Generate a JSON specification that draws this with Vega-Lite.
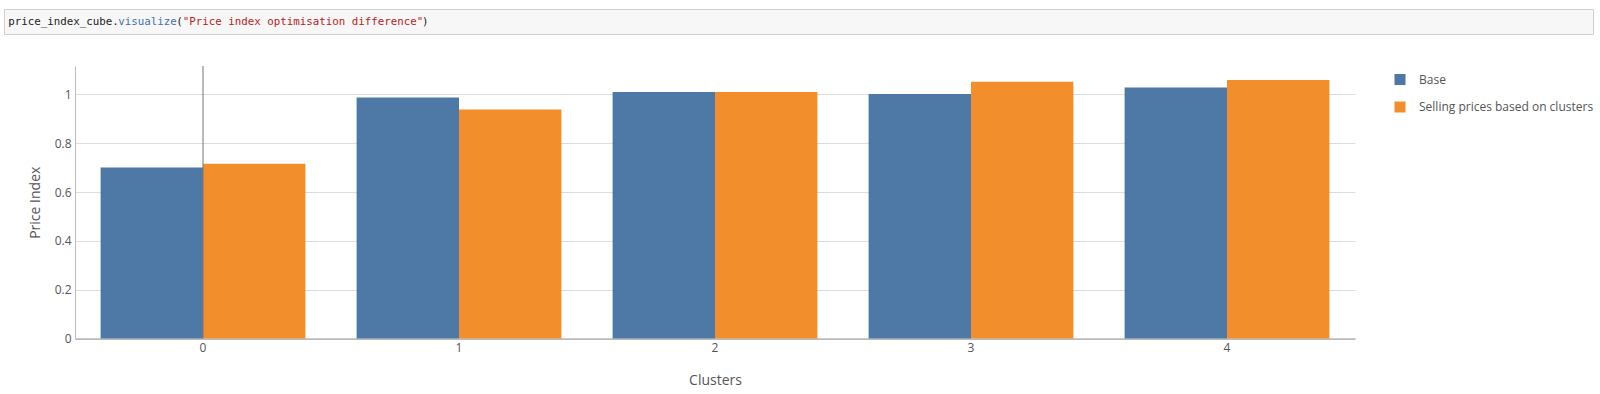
{
  "$schema": "https://vega.github.io/schema/vega-lite/v6.json",
  "padding": {"left": 3, "top": 8, "right": 0, "bottom": 0},
  "background": "white",
  "config": {"view": {"stroke": null}, "font": "Open Sans"},
  "spacing": 30,
  "resolve": {"scale": {"color": "independent", "x": "independent", "y": "independent"}, "legend": {"color": "independent"}},
  "vconcat": [
    {
      "width": 1589,
      "height": 25,
      "view": {"fill": "#f7f7f7", "stroke": "#cfcfcf", "strokeWidth": 1},
      "data": {"values": [
        {"token": "price_index_cube.", "col": 0, "kind": "ident"},
        {"token": "visualize", "col": 17, "kind": "property"},
        {"token": "(", "col": 26, "kind": "ident"},
        {"token": "\"Price index optimisation difference\"", "col": 27, "kind": "string"},
        {"token": ")", "col": 64, "kind": "ident"}
      ]},
      "mark": {"type": "text", "align": "left", "baseline": "middle", "font": "DejaVu Sans Mono", "fontSize": 10.8},
      "encoding": {
        "x": {"field": "col", "type": "quantitative", "scale": {"domain": [-0.67, 245.2], "nice": false, "zero": false}, "axis": null},
        "text": {"field": "token"},
        "color": {"field": "kind", "type": "nominal", "scale": {"domain": ["ident", "property", "string"], "range": ["#222222", "#3f72af", "#ba2121"]}, "legend": null}
      }
    },
    {
      "spacing": 23,
      "hconcat": [
        {"width": 1, "height": 1, "data": {"values": []}, "mark": "point"},
        {
          "width": 1280,
          "height": 272.5,
          "data": {"values": [
            {"cluster": "0", "series": "Base", "price_index": 0.701},
            {"cluster": "0", "series": "Selling prices based on clusters", "price_index": 0.716},
            {"cluster": "1", "series": "Base", "price_index": 0.988},
            {"cluster": "1", "series": "Selling prices based on clusters", "price_index": 0.9385},
            {"cluster": "2", "series": "Base", "price_index": 1.01},
            {"cluster": "2", "series": "Selling prices based on clusters", "price_index": 1.01},
            {"cluster": "3", "series": "Base", "price_index": 1.002},
            {"cluster": "3", "series": "Selling prices based on clusters", "price_index": 1.052},
            {"cluster": "4", "series": "Base", "price_index": 1.029},
            {"cluster": "4", "series": "Selling prices based on clusters", "price_index": 1.059}
          ]},
          "layer": [
            {
              "mark": {"type": "bar"},
              "encoding": {
                "x": {"field": "cluster", "type": "nominal", "scale": {"paddingInner": 0.2, "paddingOuter": 0.1},
                  "axis": {"title": "Clusters", "labelAngle": 0, "ticks": false, "tickSize": 0, "labelPadding": 4, "labelFontSize": 12, "labelColor": "#555", "titleFontSize": 14, "titleFontWeight": "normal", "titleColor": "#555", "titlePadding": 20, "domainColor": "#999", "grid": false}},
                "xOffset": {"field": "series", "type": "nominal", "scale": {"domain": ["Base", "Selling prices based on clusters"]}},
                "y": {"field": "price_index", "type": "quantitative", "scale": {"domain": [0, 1.1168], "nice": false},
                  "axis": {"title": "Price Index", "values": [0, 0.2, 0.4, 0.6, 0.8, 1], "format": "~g", "ticks": false, "tickSize": 0, "labelPadding": 4, "labelFontSize": 12, "labelColor": "#555", "titleFontSize": 14, "titleFontWeight": "normal", "titleColor": "#555", "titlePadding": 12, "domainColor": "#bbb", "gridColor": "#dddddd"}},
                "color": {"field": "series", "type": "nominal", "scale": {"domain": ["Base", "Selling prices based on clusters"], "range": ["#4e79a7", "#f28e2b"]},
                  "legend": {"title": null, "orient": "none", "legendX": 1390, "legendY": 7.5, "symbolType": "square", "symbolSize": 121, "symbolStrokeWidth": 0, "labelFontSize": 12, "labelColor": "#555", "labelOffset": 13, "labelLimit": 400, "rowPadding": 15.5}}
              }
            },
            {
              "data": {"values": [{"cluster": "0"}]},
              "mark": {"type": "rule", "color": "#777777", "strokeWidth": 1},
              "encoding": {"x": {"field": "cluster", "type": "nominal"}}
            }
          ]
        }
      ]
    }
  ]
}
